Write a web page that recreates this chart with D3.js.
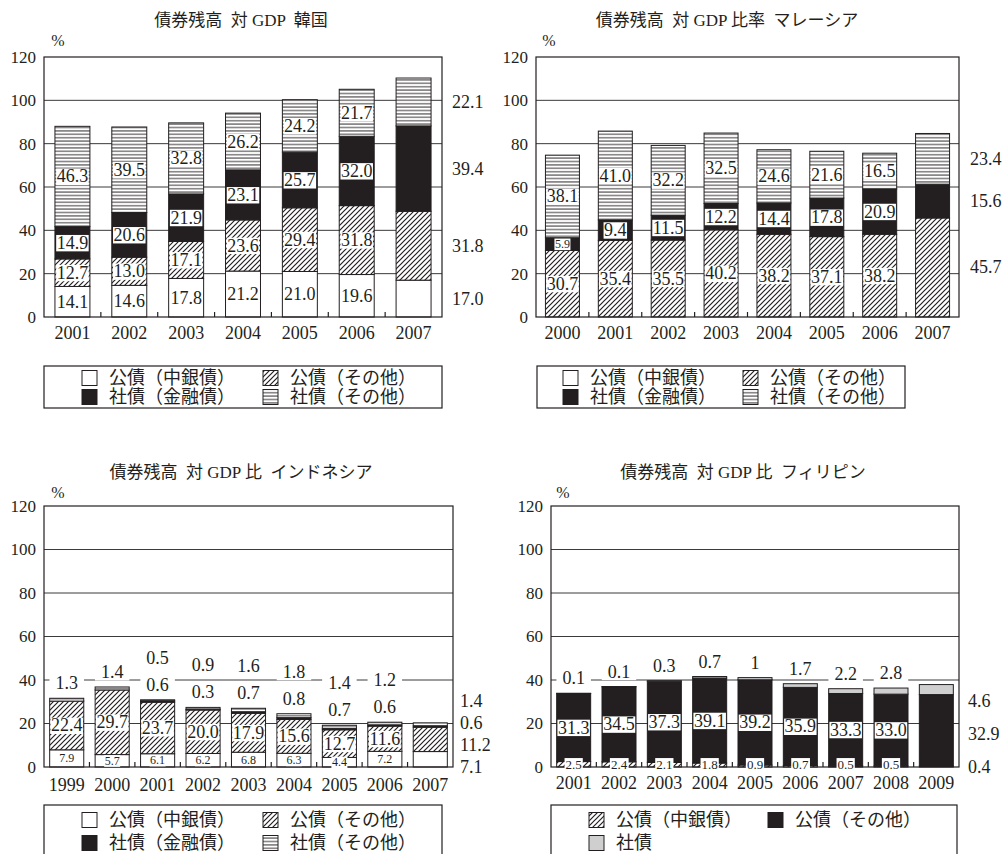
<!DOCTYPE html>
<html>
<head>
<meta charset="utf-8">
<script src="https://cdn.jsdelivr.net/npm/d3@7"></script>
<style>
body { margin: 0; background: #fff; }
text { font-family: "Liberation Serif", "Noto Sans CJK JP", serif; fill: #231f20; }
.jp { font-family: "Liberation Serif", "Noto Sans CJK JP", serif; white-space: pre; }
</style>
</head>
<body>
<script>
// values (bottom segment first)
var koreaYears = ["2001", "2002", "2003", "2004", "2005", "2006", "2007"];
var koreaCentral = [14.1, 14.6, 17.8, 21.2, 21.0, 19.6, 17.0];
var koreaGovOther = [12.7, 13.0, 17.1, 23.6, 29.4, 31.8, 31.8];
var koreaFinancial = [14.9, 20.6, 21.9, 23.1, 25.7, 32.0, 39.4];
var koreaCorpOther = [46.3, 39.5, 32.8, 26.2, 24.2, 21.7, 22.1];

var malayYears = ["2000", "2001", "2002", "2003", "2004", "2005", "2006", "2007"];
var malayCentral = [0, 0, 0, 0, 0, 0, 0, 0];
var malayGovOther = [30.7, 35.4, 35.5, 40.2, 38.2, 37.1, 38.2, 45.7];
var malayFinancial = [5.9, 9.4, 11.5, 12.2, 14.4, 17.8, 20.9, 15.6];
var malayCorpOther = [38.1, 41.0, 32.2, 32.5, 24.6, 21.6, 16.5, 23.4];

var indoYears = ["1999", "2000", "2001", "2002", "2003", "2004", "2005", "2006", "2007"];
var indoCentral = [7.9, 5.7, 6.1, 6.2, 6.8, 6.3, 4.4, 7.2, 7.1];
var indoGovOther = [22.4, 29.7, 23.7, 20.0, 17.9, 15.6, 12.7, 11.6, 11.2];
var indoFinancial = [0, 0, 0.6, 0.3, 0.7, 0.8, 0.7, 0.6, 0.6];
var indoCorpOther = [1.3, 1.4, 0.5, 0.9, 1.6, 1.8, 1.4, 1.2, 1.4];

var philYears = ["2001", "2002", "2003", "2004", "2005", "2006", "2007", "2008", "2009"];
var philCentral = [2.5, 2.4, 2.1, 1.8, 0.9, 0.7, 0.5, 0.5, 0.4];
var philGovOther = [31.3, 34.5, 37.3, 39.1, 39.2, 35.9, 33.3, 33.0, 32.9];
var philCorp = [0.1, 0.1, 0.3, 0.7, 1, 1.7, 2.2, 2.8, 4.6];

var yTicks = [0, 20, 40, 60, 80, 100, 120];
var fourNames = ["公債（中銀債）", "公債（その他）", "社債（金融債）", "社債（その他）"];
var threeNames = ["公債（中銀債）", "公債（その他）", "社債"];

var ink = "#231f20";
var fourFills = ["#fff", "url(#diag)", ink, "url(#horiz)"];
var threeFills = ["url(#diag)", ink, "#cfcfcf"];
var fixed1 = function(v){ return v.toFixed(1); };
var plain = function(v){ return String(v); };

var svg = d3.select("body").append("svg")
    .attr("width", 1003)
    .attr("height", 854);

var defs = svg.append("defs");
var diag = defs.append("pattern").attr("id", "diag")
    .attr("patternUnits", "userSpaceOnUse").attr("width", 5).attr("height", 5);
diag.append("rect").attr("width", 5).attr("height", 5).attr("fill", "#fff");
diag.append("path").attr("d", "M-1,1 l2,-2 M0,5 l5,-5 M4,6 l2,-2")
    .attr("stroke", ink).attr("stroke-width", 1.2);
var horiz = defs.append("pattern").attr("id", "horiz")
    .attr("patternUnits", "userSpaceOnUse").attr("width", 6).attr("height", 3.4);
horiz.append("rect").attr("width", 6).attr("height", 3.4).attr("fill", "#fff");
horiz.append("line").attr("x1", 0).attr("x2", 6).attr("y1", 1.7).attr("y2", 1.7)
    .attr("stroke", ink).attr("stroke-width", 0.9);

var panels = [
  {title: "債券残高  対 GDP  韓国", titleX: 241, titleY: 20, pctX: 58, pctY: 40,
   years: koreaYears, series: [koreaCentral, koreaGovOther, koreaFinancial, koreaCorpOther],
   fills: fourFills, modes: ["in", "in", "in", "in"], fmts: [fixed1, fixed1, fixed1, fixed1],
   left: 44, right: 442, top: 57, bottom: 317, pad: 0.385, yearY: 333,
   rightX: 452, rightMode: "center",
   names: fourNames, legend: {x: 44, y: 366, w: 398, h: 42, cols: [82, 263], rows: [378, 397]}},
  {title: "債券残高  対 GDP 比率  マレーシア", titleX: 727, titleY: 20, pctX: 549, pctY: 40,
   years: malayYears, series: [malayCentral, malayGovOther, malayFinancial, malayCorpOther],
   fills: fourFills, modes: ["in", "in", "in", "in"], fmts: [fixed1, fixed1, fixed1, fixed1],
   left: 536, right: 959, top: 57, bottom: 317, pad: 0.357, yearY: 333,
   rightX: 970, rightMode: "center",
   names: fourNames, legend: {x: 537, y: 366, w: 368, h: 42, cols: [563, 743], rows: [378, 397]}},
  {title: "債券残高  対 GDP 比  インドネシア", titleX: 241, titleY: 472, pctX: 58, pctY: 492,
   years: indoYears, series: [indoCentral, indoGovOther, indoFinancial, indoCorpOther],
   fills: fourFills, modes: ["in", "in", "above", "above"], fmts: [fixed1, fixed1, fixed1, fixed1],
   left: 44, right: 453, top: 506, bottom: 767, pad: 0.25, yearY: 785,
   rightX: 460, rightMode: "stack", rightGap: 22,
   names: fourNames, legend: {x: 44, y: 805, w: 398, h: 70, cols: [82, 263], rows: [820, 843]}},
  {title: "債券残高  対 GDP 比  フィリピン", titleX: 743, titleY: 472, pctX: 563, pctY: 492,
   years: philYears, series: [philCentral, philGovOther, philCorp],
   fills: threeFills, modes: ["base", "in", "above"], fmts: [fixed1, fixed1, plain],
   left: 551, right: 959, top: 506, bottom: 767, pad: 0.25, yearY: 783,
   rightX: 968, rightMode: "stack", rightGap: 33,
   names: threeNames, legend: {x: 551, y: 805, w: 406, h: 70, cols: [589, 768], rows: [820, 843]}}
];

panels.forEach(drawPanel);

function boxedLabel(g, x, y, txt, size, padX){
  var t = g.append("text")
      .attr("x", x).attr("y", y)
      .attr("text-anchor", "middle")
      .attr("dominant-baseline", "central")
      .style("font-size", size + "px")
      .text(txt);
  var b = t.node().getBBox();
  g.insert("rect", function(){ return t.node(); })
      .attr("x", b.x - padX).attr("width", b.width + 2 * padX)
      .attr("y", b.y + size * 0.12).attr("height", b.height - size * 0.2)
      .attr("fill", "#fff");
}

function drawPanel(p){
  var g = svg.append("g");
  var n = p.years.length;

  var rows = p.years.map(function(yr, i){
    var r = {year: yr};
    p.series.forEach(function(s, j){ r["s" + j] = s[i]; });
    return r;
  });
  var keys = p.series.map(function(s, j){ return "s" + j; });
  var stacked = d3.stack().keys(keys)(rows);

  var x = d3.scaleBand().domain(p.years).range([p.left, p.right])
      .paddingInner(p.pad).paddingOuter(p.pad / 2);
  var y = d3.scaleLinear().domain([0, 120]).range([p.bottom, p.top]);

  // title and unit
  g.append("text").attr("class", "jp")
      .attr("x", p.titleX).attr("y", p.titleY)
      .attr("text-anchor", "middle").attr("dominant-baseline", "central")
      .style("font-size", "17px").text(p.title);
  g.append("text").attr("x", p.pctX).attr("y", p.pctY)
      .attr("text-anchor", "middle").attr("dominant-baseline", "central")
      .style("font-size", "16px").text("%");

  // gridlines
  g.selectAll(".grid").data(yTicks.slice(1, -1)).enter().append("line")
      .attr("x1", p.left).attr("x2", p.right)
      .attr("y1", function(d){ return y(d); }).attr("y2", function(d){ return y(d); })
      .attr("stroke", "#3a3a3a").attr("stroke-width", 1);

  // bars
  stacked.forEach(function(layer, j){
    g.selectAll(".bar" + j).data(layer).enter().append("rect")
        .attr("x", function(d){ return x(d.data.year); })
        .attr("width", x.bandwidth())
        .attr("y", function(d){ return y(d[1]); })
        .attr("height", function(d){ return y(d[0]) - y(d[1]); })
        .attr("fill", p.fills[j])
        .attr("stroke", ink).attr("stroke-width", 1)
        .style("display", function(d){ return d[1] - d[0] > 0 ? null : "none"; });
  });

  // frame
  g.append("rect").attr("x", p.left).attr("y", p.top)
      .attr("width", p.right - p.left).attr("height", p.bottom - p.top)
      .attr("fill", "none").attr("stroke", ink).attr("stroke-width", 1.2);

  // small tick marks between years
  d3.range(1, n).forEach(function(i){
    var tx = p.left + i * x.step();
    g.append("line").attr("x1", tx).attr("x2", tx)
        .attr("y1", p.bottom).attr("y2", p.bottom - 5)
        .attr("stroke", ink).attr("stroke-width", 1.2);
  });

  // axes
  var ya = g.append("g").attr("transform", "translate(" + p.left + ",0)")
      .call(d3.axisLeft(y).tickValues(yTicks).tickSize(0).tickPadding(8));
  ya.select(".domain").remove();
  ya.selectAll("text").style("font-size", "17px").style("font-family", null).attr("fill", ink);

  var xa = g.append("g").attr("transform", "translate(0," + p.bottom + ")")
      .call(d3.axisBottom(x).tickSize(0).tickPadding(0));
  xa.select(".domain").remove();
  xa.selectAll("text").attr("y", p.yearY - p.bottom).attr("dy", null)
      .attr("dominant-baseline", "central")
      .style("font-size", "18px").style("font-family", null).attr("fill", ink);

  // value labels
  var lab = g.append("g");
  rows.forEach(function(r, i){
    var cx = x(r.year) + x.bandwidth() / 2;
    var total = stacked[stacked.length - 1][i][1];
    var slot = 0;
    stacked.forEach(function(layer, j){
      var v = p.series[j][i];
      if (!(v > 0)) return;
      var txt = p.fmts[j](v);
      if (i === n - 1){
        var ry = p.rightMode === "center"
            ? y((layer[i][0] + layer[i][1]) / 2)
            : p.bottom - j * p.rightGap;
        lab.append("text").attr("x", p.rightX).attr("y", ry)
            .attr("dominant-baseline", "central")
            .style("font-size", "18px").text(txt);
        return;
      }
      var mode = p.modes[j];
      if (mode === "in"){
        boxedLabel(lab, cx, y((layer[i][0] + layer[i][1]) / 2), txt, v < 8 ? 12 : 18, 0.5);
      } else if (mode === "base"){
        boxedLabel(lab, cx, p.bottom - 3, txt, 13, 1);
      } else {
        boxedLabel(lab, cx, y(total) - 15 - slot * 27, txt, 18, 6);
        slot++;
      }
    });
  });

  // legend
  var L = p.legend;
  var lg = g.append("g");
  lg.append("rect").attr("x", L.x).attr("y", L.y).attr("width", L.w).attr("height", L.h)
      .attr("fill", "#fff").attr("stroke", ink).attr("stroke-width", 1.2);
  p.names.forEach(function(name, j){
    var col = L.cols[j % 2], row = L.rows[Math.floor(j / 2)];
    lg.append("rect").attr("x", col).attr("y", row - 7.5).attr("width", 15).attr("height", 15)
        .attr("fill", p.fills[j]).attr("stroke", ink).attr("stroke-width", 1);
    lg.append("text").attr("class", "jp").attr("x", col + 27).attr("y", row)
        .attr("dominant-baseline", "central").style("font-size", "18px").text(name);
  });
}
</script>
</body>
</html>
